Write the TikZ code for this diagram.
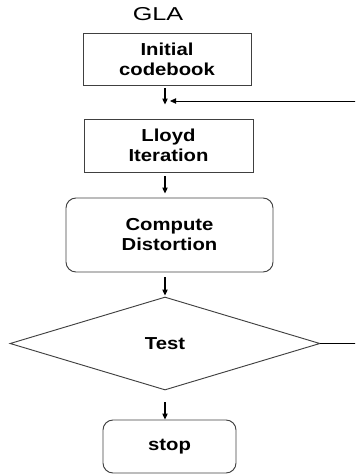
\documentclass[tikz,border=0pt]{standalone}
\usepackage{fontspec}
\setmainfont{Liberation Sans}
\newfontfamily\boxfont[FakeStretch=1.17]{Liberation Sans}
\newfontfamily\titlefont[FakeStretch=1.35]{Liberation Sans}
\usetikzlibrary{shapes.geometric,arrows.meta}

\tikzset{
  stepbox/.style={draw=black!75, line width=0.7pt, align=center, inner sep=0pt,
    font=\boxfont\bfseries\fontsize{13}{15}\selectfont},
  roundbox/.style={stepbox, rounded corners=7.5pt},
  testbox/.style={stepbox, diamond, aspect=3.33},
  flow/.style={-{Triangle[length=4.5pt,width=4pt]}, line width=0.8pt},
}

\begin{document}
\begin{tikzpicture}[x=0.75pt, y=-0.75pt]
            \useasboundingbox (0,0) rectangle (355,475);
            \clip (0,0) rectangle (355,475);

            % Title
            \node[font=\titlefont\fontsize{14}{16}\selectfont] (title) at (158,14) {GLA};

            % Boxes
            \node[stepbox, minimum width=126pt, minimum height=39pt] (init) at (167,59) {Initial\\codebook};
            \node[stepbox, minimum width=126.75pt, minimum height=39.75pt] (lloyd) at (168.5,145.5) {Lloyd\\Iteration};
            \node[roundbox, minimum width=155.25pt, minimum height=55.5pt] (dist) at (169.5,235) {Compute\\Distortion};
            \node[testbox, minimum width=232.5pt, minimum height=69.75pt] (test) at (165,343.5) {Test};
            \node[roundbox, minimum width=99.75pt, minimum height=39.75pt] (stop) at (169.5,446.5) {stop};

            % Arrows
            \draw[flow, shorten <=2.25pt, shorten >=10.5pt] (init.south -| test.north) -- (lloyd.north -| test.north);
            \draw[flow, shorten <=3pt, shorten >=3pt] (lloyd.south -| test.north) -- (dist.north -| test.north);
            \draw[flow, shorten <=3.75pt, shorten >=0.75pt] (dist.south -| test.north) -- (test.north);
            \draw[flow, shorten <=9pt] (test.south) -- (stop.north -| test.south);

            % Loop back
            \coordinate (back) at (170,101);
            \draw[flow, line width=0.6pt] (test.east) -- ++(60,0) |- (back);

\end{tikzpicture}
\end{document}
